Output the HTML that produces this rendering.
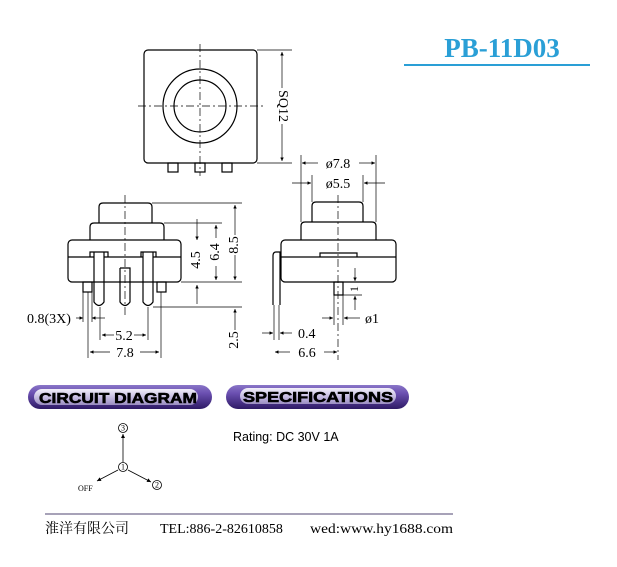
<!DOCTYPE html>
<html><head><meta charset="utf-8"><style>
body{margin:0;background:#fff}
svg{display:block}
</style></head><body>
<svg width="617" height="567" viewBox="0 0 617 567" xmlns="http://www.w3.org/2000/svg" font-family="Liberation Serif, serif">
<defs>
<linearGradient id="pg" x1="0" y1="0" x2="0" y2="1">
<stop offset="0" stop-color="#8a76c8"/><stop offset="0.35" stop-color="#6a4fb0"/><stop offset="1" stop-color="#2e1a66"/>
</linearGradient>
<linearGradient id="hl" x1="0" y1="0" x2="0" y2="1">
<stop offset="0" stop-color="#ffffff" stop-opacity="0.9"/><stop offset="1" stop-color="#d8d0f0" stop-opacity="0.6"/>
</linearGradient>
<marker id="a" viewBox="0 0 10 10" refX="10" refY="5" markerWidth="7" markerHeight="5" orient="auto-start-reverse"><path d="M0,0L10,5L0,10z" fill="#000"/></marker>
</defs>
<g stroke="#000" fill="none" stroke-width="1.2">
<rect x="144" y="50" width="113" height="113" rx="4"/>
<circle cx="200" cy="106" r="37"/><circle cx="200" cy="106" r="26"/>
<rect x="168" y="163" width="10" height="9"/><rect x="195" y="163" width="10" height="9"/><rect x="222" y="163" width="10" height="9"/>
<g stroke-width="0.7" stroke-dasharray="8,3,2,3"><line x1="138" y1="106" x2="263" y2="106"/><line x1="200" y1="44" x2="200" y2="176"/></g>
<g stroke-width="0.7"><line x1="257" y1="50" x2="292" y2="50"/><line x1="257" y1="163" x2="292" y2="163"/>
<line x1="282" y1="52" x2="282" y2="88" marker-start="url(#a)"/><line x1="282" y1="124" x2="282" y2="161" marker-end="url(#a)"/></g>
<path d="M99,223V207Q99,203 103,203H148Q152,203 152,207V223"/>
<path d="M90,240V227Q90,223 94,223H160Q164,223 164,227V240"/>
<rect x="68" y="240" width="113" height="42" rx="4"/>
<line x1="68" y1="257" x2="94" y2="257"/><line x1="104" y1="257" x2="143" y2="257"/><line x1="153" y1="257" x2="181" y2="257"/>
<path d="M90,257V252H108V257"/><path d="M141,257V252H156V257"/>
<rect x="83" y="282" width="9" height="10"/><rect x="157" y="282" width="9" height="10"/>
<path d="M94,252V302Q99,309 104,302V252"/><path d="M120,268V302Q125,309 130,302V268H120"/><path d="M143,252V302Q148,309 153,302V252"/>
<line x1="125" y1="195" x2="125" y2="315" stroke-width="0.7" stroke-dasharray="8,3,2,3"/>
<g stroke-width="0.7">
<line x1="152" y1="203" x2="242" y2="203"/><line x1="164" y1="223" x2="222" y2="223"/><line x1="181" y1="282" x2="242" y2="282"/><line x1="153" y1="307" x2="242" y2="307"/>
<line x1="235" y1="205" x2="235" y2="235" marker-start="url(#a)"/><line x1="235" y1="255" x2="235" y2="280" marker-end="url(#a)"/>
<line x1="216" y1="225" x2="216" y2="238" marker-start="url(#a)"/><line x1="216" y1="266" x2="216" y2="280" marker-end="url(#a)"/>
<line x1="197" y1="219" x2="197" y2="240" marker-end="url(#a)"/><line x1="197" y1="304" x2="197" y2="285" marker-end="url(#a)"/>
<line x1="235" y1="330" x2="235" y2="309" marker-end="url(#a)"/>
<line x1="88" y1="292" x2="88" y2="358"/><line x1="161" y1="292" x2="161" y2="358"/><line x1="100" y1="307" x2="100" y2="340"/><line x1="148" y1="307" x2="148" y2="340"/><line x1="83" y1="292" x2="83" y2="322"/><line x1="92" y1="292" x2="92" y2="322"/>
<line x1="76" y1="318" x2="83" y2="318" marker-end="url(#a)"/><line x1="105" y1="318" x2="92" y2="318" marker-end="url(#a)"/>
<line x1="114" y1="335" x2="102" y2="335" marker-end="url(#a)"/><line x1="134" y1="335" x2="146" y2="335" marker-end="url(#a)"/>
<line x1="110" y1="352" x2="90" y2="352" marker-end="url(#a)"/><line x1="140" y1="352" x2="159" y2="352" marker-end="url(#a)"/>
</g>
<path d="M312,222V206Q312,202 316,202H359Q363,202 363,206V222"/>
<path d="M301,240V226Q301,222 305,222H372Q376,222 376,226V240"/>
<rect x="281" y="240" width="115" height="42" rx="4"/>
<line x1="281" y1="257" x2="396" y2="257"/><path d="M320,257V253H357V257"/>
<rect x="334" y="282" width="9" height="13"/>
<path d="M281,252H276Q273,252 273,256V305M280,252V305" />
<line x1="274" y1="305" x2="274" y2="340" stroke-width="0.7"/><line x1="279" y1="305" x2="279" y2="340" stroke-width="0.7"/>
<line x1="338" y1="195" x2="338" y2="360" stroke-width="0.7" stroke-dasharray="8,3,2,3"/>
<g stroke-width="0.7">
<line x1="301" y1="155" x2="301" y2="222"/><line x1="376" y1="155" x2="376" y2="222"/><line x1="312" y1="175" x2="312" y2="202"/><line x1="363" y1="175" x2="363" y2="202"/>
<line x1="318" y1="163" x2="302" y2="163" marker-end="url(#a)"/><line x1="359" y1="163" x2="375" y2="163" marker-end="url(#a)"/>
<line x1="292" y1="183" x2="311" y2="183" marker-end="url(#a)"/><line x1="385" y1="183" x2="364" y2="183" marker-end="url(#a)"/>
<line x1="343" y1="295" x2="362" y2="295"/>
<line x1="355" y1="268" x2="355" y2="281" marker-end="url(#a)"/><line x1="355" y1="310" x2="355" y2="296" marker-end="url(#a)"/>
<line x1="334" y1="295" x2="334" y2="325"/><line x1="343" y1="295" x2="343" y2="325"/>
<line x1="322" y1="318" x2="333" y2="318" marker-end="url(#a)"/><line x1="360" y1="318" x2="344" y2="318" marker-end="url(#a)"/>
<line x1="262" y1="333" x2="273" y2="333" marker-end="url(#a)"/><line x1="292" y1="333" x2="280" y2="333" marker-end="url(#a)"/>
<line x1="290" y1="352" x2="275" y2="352" marker-end="url(#a)"/><line x1="324" y1="352" x2="337" y2="352" marker-end="url(#a)"/>
</g>
</g>
<g font-size="14" fill="#000">
<text x="282" y="106" transform="rotate(90 282 106)" text-anchor="middle" dominant-baseline="middle">SQ12</text>
<text x="235" y="245" transform="rotate(-90 235 245)" text-anchor="middle" dominant-baseline="middle">8.5</text>
<text x="216" y="252" transform="rotate(-90 216 252)" text-anchor="middle" dominant-baseline="middle">6.4</text>
<text x="197" y="260" transform="rotate(-90 197 260)" text-anchor="middle" dominant-baseline="middle">4.5</text>
<text x="235" y="340" transform="rotate(-90 235 340)" text-anchor="middle" dominant-baseline="middle">2.5</text>
<text x="355" y="289" transform="rotate(-90 355 289)" text-anchor="middle" dominant-baseline="middle" font-size="12">1</text>
<text x="27" y="323">0.8(3X)</text>
<text x="124" y="340" text-anchor="middle">5.2</text>
<text x="125" y="357" text-anchor="middle">7.8</text>
<text x="338" y="168" text-anchor="middle">ø7.8</text>
<text x="338" y="188" text-anchor="middle">ø5.5</text>
<text x="365" y="323">ø1</text>
<text x="298" y="338">0.4</text>
<text x="307" y="357" text-anchor="middle">6.6</text>
</g>
<text x="502" y="57" text-anchor="middle" font-size="27" font-weight="bold" fill="#2a9fd6">PB-11D03</text>
<line x1="404" y1="65" x2="590" y2="65" stroke="#2a9fd6" stroke-width="2"/>
<rect x="28" y="385" width="184" height="24" rx="12" fill="url(#pg)"/>
<rect x="226" y="385" width="183" height="24" rx="12" fill="url(#pg)"/>
<rect x="34" y="389" width="164" height="16" rx="8" fill="url(#hl)"/>
<rect x="240" y="388" width="156" height="16" rx="8" fill="url(#hl)"/>
<g font-family="Liberation Sans, sans-serif" font-weight="bold" font-size="15" fill="#000" stroke="#000" stroke-width="0.6">
<text x="118" y="403" text-anchor="middle" textLength="158" lengthAdjust="spacingAndGlyphs">CIRCUIT DIAGRAM</text>
<text x="318" y="402" text-anchor="middle" textLength="150" lengthAdjust="spacingAndGlyphs">SPECIFICATIONS</text>
</g>
<text x="233" y="441" font-family="Liberation Sans, sans-serif" font-size="12.5">Rating: DC 30V  1A</text>
<g stroke="#000" fill="none" stroke-width="0.8">
<circle cx="123" cy="428" r="4.5"/><circle cx="123" cy="467" r="4.5"/><circle cx="157" cy="485" r="4.5"/>
<line x1="123" y1="462" x2="123" y2="434" marker-end="url(#a)"/>
<line x1="128" y1="470" x2="151" y2="482" marker-end="url(#a)"/>
<line x1="118" y1="470" x2="97" y2="481" marker-end="url(#a)"/>
</g>
<g font-size="8" text-anchor="middle" dominant-baseline="central"><text x="123" y="428">3</text><text x="123" y="467">1</text><text x="157" y="485">2</text></g>
<text x="78" y="491" font-size="8">OFF</text>
<line x1="45" y1="514" x2="453" y2="514" stroke="#8a84a0" stroke-width="1.5"/>
<text x="45" y="533" font-size="14" font-family="Liberation Serif, 'Noto Serif CJK SC', 'Noto Sans CJK TC', serif">淮洋有限公司</text>
<text x="160" y="533" font-size="14">TEL:886-2-82610858</text>
<text x="310" y="533" font-size="14" textLength="143" lengthAdjust="spacingAndGlyphs">wed:www.hy1688.com</text>
</svg>
</body></html>
